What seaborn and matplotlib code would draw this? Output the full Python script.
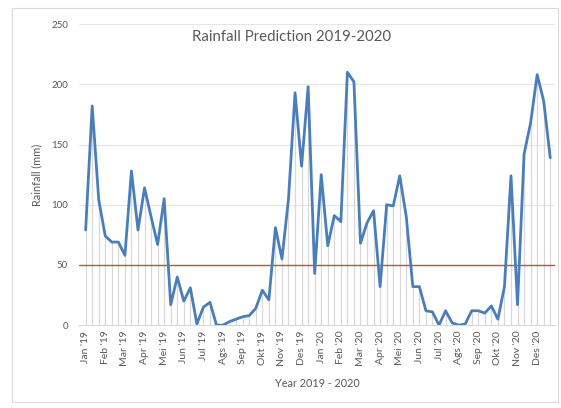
import numpy as np
import pandas as pd
import matplotlib
matplotlib.use("Agg")
import matplotlib.pyplot as plt
import seaborn as sns

# dekadal rainfall (3 values per month), Jan 2019 - Dec 2020
rain_2019 = [79, 182, 104, 74, 69, 69, 58, 128, 79, 114, 90, 67,
             105, 17, 40, 20, 31, 1, 15, 19, 0, 0, 3, 5,
             7, 8, 14, 29, 21, 81, 55, 105, 193, 132, 198, 43]
rain_2020 = [125, 66, 91, 86, 210, 202, 68, 85, 95, 32, 100, 99,
             124, 90, 32, 32, 12, 11, 0, 12, 2, 0, 1, 12,
             12, 10, 16, 5, 32, 124, 17, 142, 168, 208, 186, 139]
months = ["Jan", "Feb", "Mar", "Apr", "Mei", "Jun", "Jul", "Ags", "Sep", "Okt", "Nov", "Des"]
tick_labels = [f"{m} '19" for m in months] + [f"{m} '20" for m in months]
threshold = 50

rain = rain_2019 + rain_2020
df = pd.DataFrame({"idx": np.arange(len(rain)), "rain": rain})

sns.set_style("white")
plt.rcParams["font.family"] = ["Lato", "DejaVu Sans"]

fig = plt.figure(figsize=(5.61, 4.08), dpi=100)
ax = fig.add_axes([0.141, 0.203, 0.848, 0.738])

# light grey drop lines under every point
ax.vlines(df["idx"], 0, df["rain"], color="#d9d9d9", linewidth=0.9, zorder=1)
sns.lineplot(data=df, x="idx", y="rain", ax=ax, color="#4a7ebb", linewidth=2.0, zorder=3)
ax.axhline(threshold, color="#c0504d", linewidth=1.0, zorder=2)

ax.set_xlim(-1.0, 71.7)
ax.set_ylim(0, 250)
ax.set_yticks(range(0, 251, 50))
ax.yaxis.grid(True, color="#e6e6e6", linewidth=0.8)
ax.set_axisbelow(True)
ax.set_xticks(np.arange(0, len(rain), 3))
ax.set_xticklabels(tick_labels, rotation=90, fontsize=7.5, color="#595959")
ax.tick_params(axis="y", labelsize=7, labelcolor="#595959", length=0, pad=8)
ax.tick_params(axis="x", length=0, pad=4)
for s in ["top", "right", "left"]:
    ax.spines[s].set_visible(False)
ax.spines["bottom"].set_color("#d9d9d9")

ax.set_xlabel("Year 2019 - 2020", fontsize=7.8, color="#595959", labelpad=8)
ax.set_ylabel("Rainfall (mm)", fontsize=7.8, color="#595959", labelpad=6)
fig.text(0.52, 0.9, "Rainfall Prediction 2019-2020", ha="center", fontsize=10.8, color="#595959")

# chart area border
fig.patches.append(plt.Rectangle((0.022, 0.015), 0.972, 0.965, transform=fig.transFigure,
                                 fill=False, edgecolor="#d9d9d9", linewidth=0.8))

fig.savefig("out.png", dpi=100)
